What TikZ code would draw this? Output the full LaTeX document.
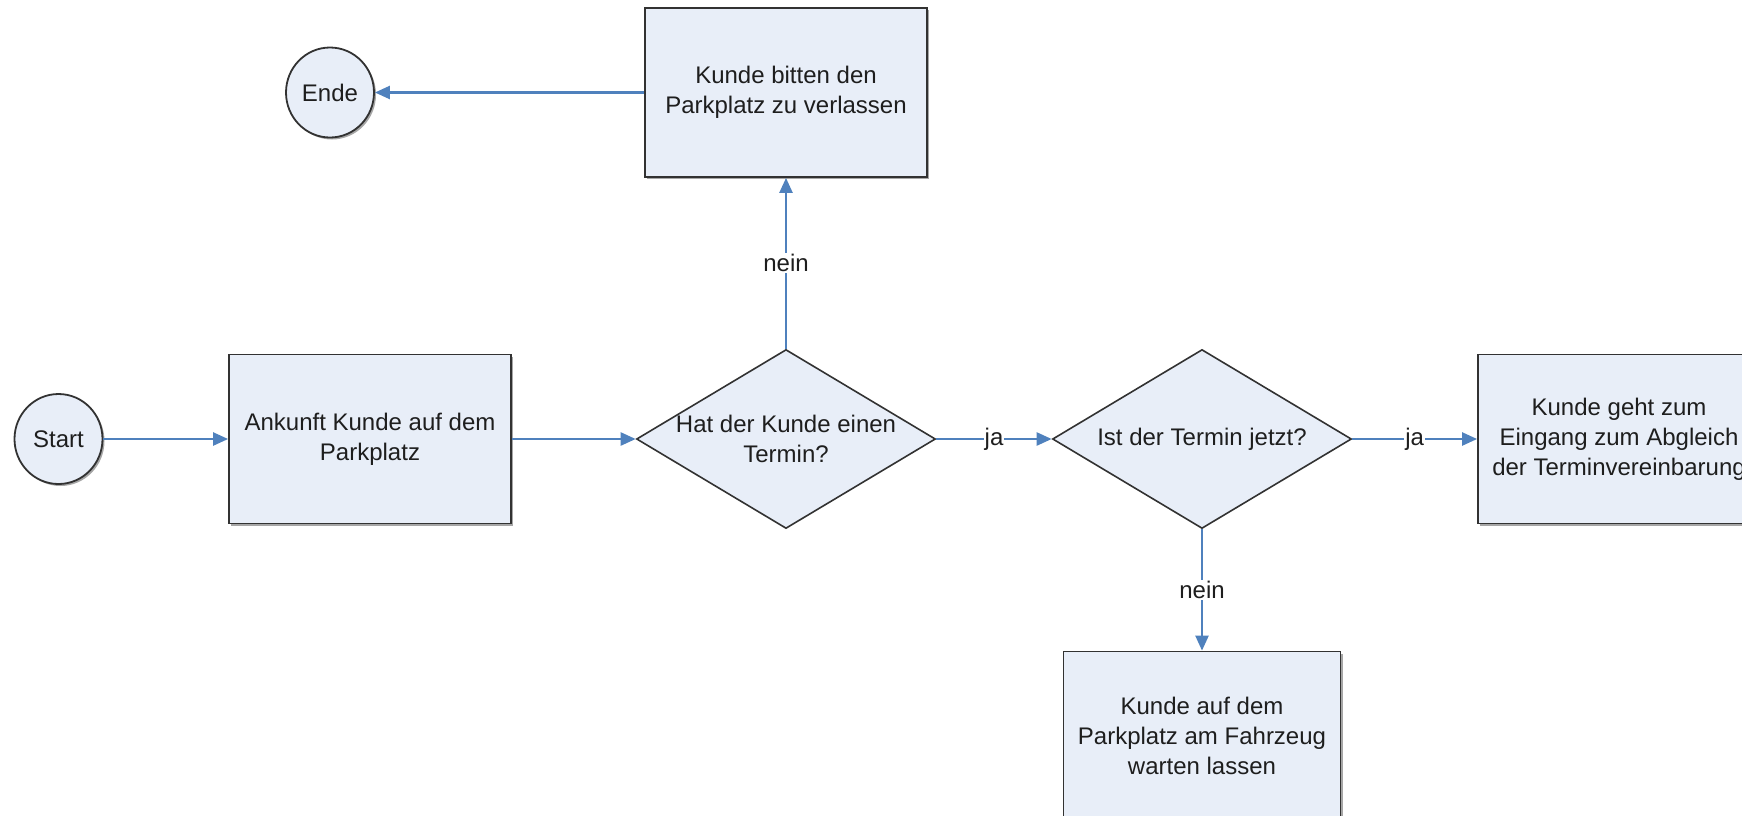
\documentclass[tikz,border=0pt]{standalone}
\usepackage{fontspec}
\setmainfont{Liberation Sans}
\usetikzlibrary{shapes.geometric,arrows.meta,shadows}
\definecolor{boxfill}{RGB}{232,238,248}
\definecolor{boxline}{RGB}{50,50,50}
\definecolor{arrowblue}{RGB}{79,129,189}
\definecolor{txtcol}{RGB}{30,30,30}
\begin{document}
\begin{tikzpicture}[x=1pt,y=-1pt,
  every node/.style={font=\fontsize{24}{30}\selectfont, text=txtcol},
  shade/.style={general shadow={fill=black!35, shadow xshift=2pt, shadow yshift=-2pt}},
  proc/.style={rectangle, draw=boxline, fill=boxfill, line width=1.8pt,
    minimum width=282pt, minimum height=169pt, align=center, inner sep=0pt, shade},
  term/.style={ellipse, draw=boxline, fill=boxfill, line width=1.8pt,
    minimum width=88pt, minimum height=90pt, inner sep=0pt, shade},
  dec/.style={diamond, draw=boxline, fill=boxfill, line width=1.6pt,
    minimum width=299pt, minimum height=179pt, inner sep=0pt},
  dectext/.style={align=center},
  flow/.style={draw=arrowblue, line width=2.4pt, -{Triangle[length=15pt,width=13pt]}},
  lab/.style={fill=white, inner sep=1pt}
]
\useasboundingbox (0,0) rectangle (1742,815);

\node[term] (start) at (58.5,439) {Start};
\node[term] (ende) at (330,92.5) {Ende};
\node[proc] (ankunft) at (370,439) {Ankunft Kunde auf dem\\Parkplatz};
\node[proc] (bitten) at (786,92.5) {Kunde bitten den\\Parkplatz zu verlassen};
\node[dec, label={[dectext]center:Hat der Kunde einen\\Termin?}] (d1) at (786,439) {};
\node[dec, label={[dectext]center:Ist der Termin jetzt?}] (d2) at (1202,439) {};
\node[proc] (eingang) at (1619,439) {Kunde geht zum\\Eingang zum Abgleich\\der Terminvereinbarung};
\node[proc, minimum width=277pt] (warten) at (1202,736) {Kunde auf dem\\Parkplatz am Fahrzeug\\warten lassen};

\draw[flow] (start) -- (ankunft);
\draw[flow] (ankunft) -- (d1);
\draw[flow] (d1) -- node[lab] {ja} (d2);
\draw[flow] (d2) -- node[lab] {ja} (eingang);
\draw[flow] (d1.north) -- node[lab] {nein} (bitten.south);
\draw[flow] (bitten.west) -- (ende.east);
\draw[flow] (d2.south) -- node[lab] {nein} (warten.north);
\end{tikzpicture}
\end{document}
